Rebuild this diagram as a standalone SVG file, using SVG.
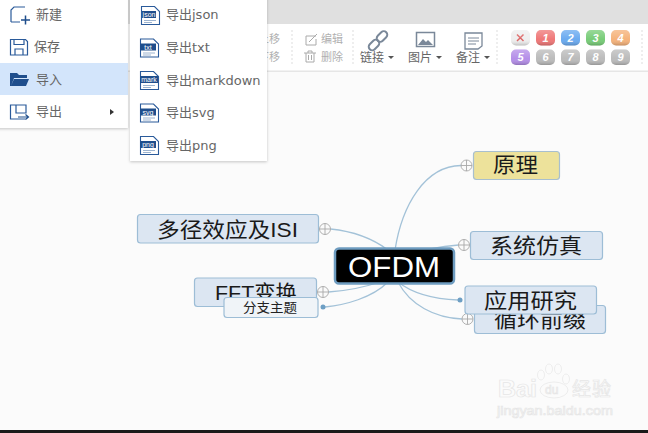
<svg xmlns="http://www.w3.org/2000/svg" width="648" height="433" viewBox="0 0 648 433">
<defs>
<linearGradient id="gl" x1="0" y1="0" x2="0" y2="1"><stop offset="0" stop-color="#fff" stop-opacity=".25"/><stop offset=".6" stop-color="#fff" stop-opacity="0"/><stop offset="1" stop-color="#000" stop-opacity=".2"/></linearGradient>
<filter id="sh" x="-10%" y="-10%" width="120%" height="120%"><feDropShadow dx="0" dy="1" stdDeviation="1.500" flood-color="#000" flood-opacity=".22"/></filter>
</defs>
<style>
text{font-family:"Liberation Sans","Noto Sans CJK SC",sans-serif}
.n{fill:#dce6f2;stroke:#9dbdd6;stroke-width:1.200}
.t{font-size:21px;fill:#1a1a1a}
.m{font-size:13px;fill:#666}
.d{font-family:"DejaVu Sans","Noto Sans CJK SC",sans-serif;font-size:13px;fill:#666}
.l{font-size:12px;fill:#666}
.g{font-size:11px;fill:#b0b0b0}
.c{fill:none;stroke:#a3c2d8;stroke-width:1.300}
.p{fill:#fafafa;stroke:#b0b0b0;stroke-width:1}
.x{fill:none;stroke:#a8a8a8;stroke-width:.9}
.ti{fill:none;stroke:#aaa;stroke-width:1}
.i{fill:#fff;stroke:#2a5a9a;stroke-width:1.100}
.ib{fill:#1f4e8c}
.il{stroke:#9db4d0;stroke-width:1;fill:none}
.it{font-size:7px;fill:#fff;text-anchor:middle}
.mi{fill:none;stroke:#2a5a9a;stroke-width:1.200}
.bt{font-size:11px;font-weight:bold;font-style:italic;fill:#fff;text-anchor:middle}
.w{fill:#fbfbfb;stroke:#e6e6e6;stroke-width:.7}
.h{fill:url(#gl)}
.ca{fill:#555}
</style>
<rect width="648" height="433" fill="#fbfbfb"/>
<g id="toolbar">
<rect width="648" height="24" fill="#e0e0e0"/>
<rect y="24" width="648" height="47" fill="#fff"/>
<rect y="70.500" width="648" height="1.500" fill="#e6e6e6"/>
<path d="M292 30V64M353 30V64M497 30V64M642 30V64" stroke="#ddd" stroke-dasharray="2 2"/>
<text class="g" x="258" y="43">上移</text>
<text class="g" x="258" y="61">下移</text>
<path class="ti" d="M316 36h-10v9h10v-6M309 42l8-8"/>
<text class="g" x="321" y="43">编辑</text>
<path class="ti" d="M304 53h12M306 53v9h8v-9M308 53v-2h4v2M308.500 55v5M311.500 55v5"/>
<text class="g" x="321" y="61">删除</text>
<g fill="none" stroke="#7a8899" stroke-width="2">
<rect x="368" y="41.500" width="12" height="7" rx="3.500" transform="rotate(-45 374 45)"/>
<rect x="376" y="33" width="12" height="7" rx="3.500" transform="rotate(-45 382 36.500)"/>
</g>
<text class="l" x="360" y="61.500">链接</text><path class="ca" d="M388 56h6l-3 3z"/>
<rect x="416.500" y="32.500" width="18" height="14" fill="#fff" stroke="#7a8899" stroke-width="1.500"/>
<path d="M418 45l5-6 3 3 2-2 5 5z" fill="#7a8899"/>
<text class="l" x="408" y="61.500">图片</text><path class="ca" d="M436 56h6l-3 3z"/>
<path d="M465 33h17v13l-4 3h-13z" fill="#fff" stroke="#7a8899" stroke-width="1.300"/>
<path d="M468 38h11M468 41h11M468 44h8" stroke="#7a8899"/>
<text class="l" x="456" y="61.500">备注</text><path class="ca" d="M484 56h6l-3 3z"/>
<g id="badges">
<rect x="511" y="30" width="19" height="15.500" rx="5" fill="#eee"/>
<path d="M517 34.500l6.500 6.500m0-6.500l-6.500 6.500" stroke="#d66" stroke-width="1.500"/>
<rect x="536" y="30" width="19" height="15.500" rx="5" fill="#ef7777"/><text class="bt" x="545.500" y="41.500">1</text>
<rect x="561" y="30" width="19" height="15.500" rx="5" fill="#6aaaf0"/><text class="bt" x="570.500" y="41.500">2</text>
<rect x="586" y="30" width="19" height="15.500" rx="5" fill="#77cc77"/><text class="bt" x="595.500" y="41.500">3</text>
<rect x="611" y="30" width="19" height="15.500" rx="5" fill="#f5b27a"/><text class="bt" x="620.500" y="41.500">4</text>
<rect x="511" y="49.500" width="19" height="15.500" rx="5" fill="#b48ee8"/><text class="bt" x="520.500" y="61">5</text>
<rect x="536" y="49.500" width="19" height="15.500" rx="5" fill="#bbb"/><text class="bt" x="545.500" y="61">6</text>
<rect x="561" y="49.500" width="19" height="15.500" rx="5" fill="#bbb"/><text class="bt" x="570.500" y="61">7</text>
<rect x="586" y="49.500" width="19" height="15.500" rx="5" fill="#bbb"/><text class="bt" x="595.500" y="61">8</text>
<rect x="611" y="49.500" width="19" height="15.500" rx="5" fill="#bbb"/><text class="bt" x="620.500" y="61">9</text>
<g class="h">
<rect x="511" y="30" width="19" height="15.500" rx="5"/><rect x="536" y="30" width="19" height="15.500" rx="5"/><rect x="561" y="30" width="19" height="15.500" rx="5"/><rect x="586" y="30" width="19" height="15.500" rx="5"/><rect x="611" y="30" width="19" height="15.500" rx="5"/>
<rect x="511" y="49.500" width="19" height="15.500" rx="5"/><rect x="536" y="49.500" width="19" height="15.500" rx="5"/><rect x="561" y="49.500" width="19" height="15.500" rx="5"/><rect x="586" y="49.500" width="19" height="15.500" rx="5"/><rect x="611" y="49.500" width="19" height="15.500" rx="5"/>
</g>
</g>
</g>
<g id="connectors">
<path class="c" d="M395 250C402 205 425 166 461 165.500"/>
<path class="c" d="M430 249Q445 246 458.500 245"/>
<path class="c" d="M398 282C412 293 432 299 458 300"/>
<path class="c" d="M398 282C410 305 435 318 462 319"/>
<path class="c" d="M330.500 229C350 231 372 238 388 250"/>
<path class="c" d="M328.500 292C345 291 362 288 380 282"/>
<path class="c" d="M325 307C345 305 372 298 388 282"/>
</g>
<g id="n-yuanli"><rect x="473.500" y="151.500" width="86" height="28" rx="3" fill="#ede29b" stroke="#a8bfcf" stroke-width="1.200"/><text class="t" x="493" y="172" textLength="45" lengthAdjust="spacingAndGlyphs">原理</text></g>
<g id="p1"><circle class="p" cx="466.500" cy="165.500" r="5.500"/><path class="x" d="M461 165.500h11M466.500 160v11"/></g>
<g id="n-fangzhen"><rect class="n" x="470.500" y="231.500" width="132" height="28" rx="3"/><text class="t" x="490" y="253" textLength="92" lengthAdjust="spacingAndGlyphs">系统仿真</text></g>
<g id="p2"><circle class="p" cx="464" cy="245" r="5.500"/><path class="x" d="M458.500 245h11M464 239.500v11"/></g>
<g id="n-xunhuan"><rect class="n" x="474.500" y="305.500" width="131" height="28" rx="3"/><text class="t" x="494" y="327" textLength="92" lengthAdjust="spacingAndGlyphs">循环前缀</text></g>
<g id="p3"><circle class="p" cx="467.500" cy="319" r="5.500"/><path class="x" d="M462 319h11M467.500 313.500v11"/></g>
<g id="n-yingyong"><rect class="n" x="465" y="286" width="131.500" height="28" rx="3"/><text class="t" x="484" y="308" textLength="93" lengthAdjust="spacingAndGlyphs">应用研究</text></g>
<circle cx="460" cy="300" r="2.500" fill="#6e9fc4"/>
<g id="n-duojing"><rect class="n" x="137.500" y="214.500" width="181" height="28.500" rx="3"/><text class="t" x="157" y="236.500" textLength="141" lengthAdjust="spacingAndGlyphs">多径效应及ISI</text></g>
<g id="p4"><circle class="p" cx="325" cy="229" r="5.500"/><path class="x" d="M319.500 229h11M325 223.500v11"/></g>
<g id="n-fft"><rect class="n" x="194.500" y="278" width="122" height="28.500" rx="3"/><text class="t" x="215" y="300" textLength="82" lengthAdjust="spacingAndGlyphs">FFT变换</text></g>
<g id="p5"><circle class="p" cx="323" cy="292" r="5.500"/><path class="x" d="M317.500 292h11M323 286.500v11"/></g>
<g id="n-fenzhi"><rect x="224" y="297.500" width="94" height="20" rx="3" fill="#f0f4f8" stroke="#9dbdd6" stroke-width="1.200"/><text x="243" y="312" font-size="13" fill="#222" textLength="54" lengthAdjust="spacingAndGlyphs">分支主题</text></g>
<circle cx="323" cy="307" r="2.500" fill="#6e9fc4"/>
<g id="n-ofdm"><rect x="335" y="248.500" width="119" height="35" rx="4" fill="#000" stroke="#6e9cc0" stroke-width="2.500"/><text x="348" y="277" font-size="29" fill="#fff" textLength="92" lengthAdjust="spacingAndGlyphs">OFDM</text></g>
<g id="menu">
<rect x="-3" y="-3" width="131" height="131" fill="#fff" filter="url(#sh)"/>
<rect y="63" width="128" height="32" fill="#d3e5fb"/>
<path class="mi" d="M11 22V10l3-3h11M11 22h9"/><path d="M21 20h9M25.500 15.500v9" stroke="#1f4e8c" stroke-width="1.500"/>
<text class="m" x="36" y="19">新建</text>
<path class="mi" d="M10.500 39.500h15l2 2v13.500h-17z"/><path class="mi" d="M14 39.500v5h10v-5M15 55v-6h8v6"/>
<text class="m" x="34" y="51">保存</text>
<path d="M10 86V73h7l2 2h8v3h-13l-3 8zM11 86h15l3-7h-15z" fill="#1f4e8c"/>
<text class="m" x="36" y="84">导入</text>
<path class="mi" d="M15 105h-4.500v14h15M15 105h11v8h-10v-8"/><path d="M18 117h10m-2.500-2.500l3 2.500-3 2.500" fill="none" stroke="#1f4e8c" stroke-width="1.200"/>
<text class="m" x="36" y="116">导出</text>
<path d="M110 109l4 3-4 3z" fill="#333"/>
</g>
<g id="submenu">
<rect x="130" y="-3" width="137" height="164" fill="#fff" filter="url(#sh)"/>
<g id="i1"><path class="i" d="M141.500 6.500h13l5 5v13h-18z"/><rect class="ib" x="142" y="11" width="14" height="7"/><text class="it" x="149" y="17">json</text><path class="il" d="M144 20.500h12M144 22.500h8"/></g>
<text class="d" x="166" y="19">导出json</text>
<g id="i2"><path class="i" d="M140.500 39h13l5 5v13h-18z"/><rect class="ib" x="140" y="43.500" width="16" height="7"/><text class="it" x="148" y="49.500">txt</text><path class="il" d="M143 53h12M143 55h8"/></g>
<text class="d" x="166" y="52">导出txt</text>
<g id="i3"><path class="i" d="M140.500 71.500h13l5 5v13h-18z"/><rect class="ib" x="140" y="76" width="18" height="7"/><text class="it" x="149" y="82">mark</text><path class="il" d="M143 85.500h12M143 87.500h8"/></g>
<text class="d" x="166" y="84.500">导出markdown</text>
<g id="i4"><path class="i" d="M140.500 104h13l5 5v13h-18z"/><rect class="ib" x="140" y="108.500" width="16" height="7"/><text class="it" x="148" y="114.500">svg</text><path class="il" d="M143 118h12M143 120h8"/></g>
<text class="d" x="166" y="117">导出svg</text>
<g id="i5"><path class="i" d="M140.500 136.500h13l5 5v13h-18z"/><rect class="ib" x="140" y="141" width="16" height="7"/><text class="it" x="148" y="147">png</text><path class="il" d="M143 150.500h12M143 152.500h8"/></g>
<text class="d" x="166" y="149.500">导出png</text>
</g>
<g id="watermark">
<text class="w" x="498" y="397" font-size="23" font-weight="bold" textLength="39" lengthAdjust="spacingAndGlyphs">Bai</text>
<ellipse class="w" cx="554" cy="390" rx="14" ry="8"/>
<ellipse class="w" cx="541" cy="375" rx="3.500" ry="5"/><ellipse class="w" cx="549" cy="369" rx="3.500" ry="5"/><ellipse class="w" cx="558" cy="369" rx="3.500" ry="5"/><ellipse class="w" cx="566" cy="379" rx="3.500" ry="5"/>
<text class="w" x="545" y="394" font-size="12">du</text>
<text class="w" x="572" y="396" font-size="19" textLength="39">经验</text>
<text class="w" x="497" y="415" font-size="13" textLength="116" lengthAdjust="spacingAndGlyphs">jingyan.baidu.com</text>
</g>
<rect y="430" width="648" height="3" fill="#1a1a1a"/>
</svg>
